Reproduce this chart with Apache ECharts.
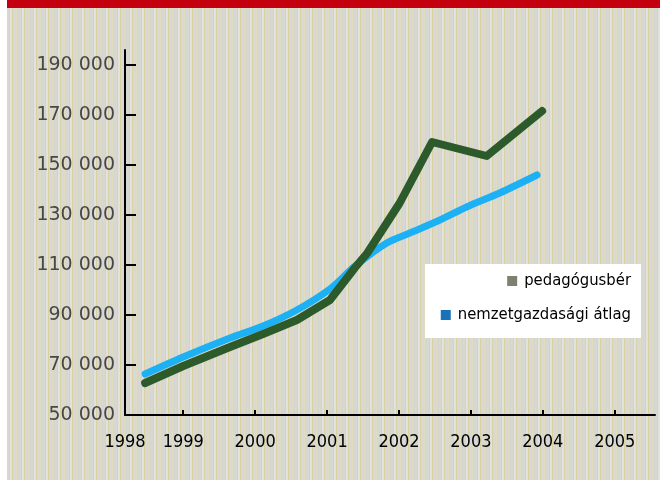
<!DOCTYPE html>
<html>
<head>
<meta charset="utf-8">
<script src="https://cdn.jsdelivr.net/npm/echarts@6/dist/echarts.min.js"></script>
<style>
  html, body { margin: 0; padding: 0; background: #ffffff; }
  #wrap { position: relative; width: 660px; height: 480px; overflow: hidden; }
  #bar { position: absolute; left: 7px; top: 0; width: 653px; height: 8px; background: #c4000f; }
  #paper {
    position: absolute; left: 7px; top: 8px; width: 653px; height: 472px;
    background-color: #dad8cc;
    background-image: repeating-linear-gradient(90deg,
      #d7d7d4 0px, #d7d7d4 2px,
      #ddd5a6 2px, #ddd5a6 3px,
      #e2e1da 3px, #e2e1da 5px,
      #d9d1a0 5px, #d9d1a0 6px,
      #d8d8d6 6px, #d8d8d6 9px,
      #e0dcc0 9px, #e0dcc0 10px,
      #d6d6d3 10px, #d6d6d3 12px);
  }
  #chart { position: absolute; left: 0; top: 0; width: 660px; height: 480px; }
</style>
</head>
<body>
<div id="wrap">
  <div id="bar"></div>
  <div id="paper"></div>
  <div id="chart"></div>
</div>
<script>
// Gross monthly earnings (Ft): teachers vs. national economy average
const yearLabels = [1998, 1999, 2000, 2001, 2002, 2003, 2004, 2005];
const valueTicks = [50000, 70000, 90000, 110000, 130000, 150000, 170000, 190000];

const seriesNames = ['pedagógusbér', 'nemzetgazdasági átlag'];

const pedYears  = [1998.47, 1999.0, 1999.65, 2000.11, 2000.58, 2001.04, 2001.39, 2001.56, 2002.01, 2002.46, 2003.22, 2003.99];
const pedValues = [62800,   69600,  77200,   82400,   88000,   96000,   109000,  114800,  134800,  159200,  153600,  171600];

const avgYears  = [1998.47, 1999.0, 1999.65, 2000.11, 2000.58, 2001.04, 2001.39, 2001.83, 2002.15, 2002.57, 2002.94, 2003.4, 2003.92];
const avgValues = [66400,   73200,  80800,   85600,   92000,   100400,  109600,  118800,  122800,  128000,  133200,  138800, 146000];

const toPairs = (xs, ys) => xs.map((x, i) => [x, ys[i]]);
const fmtThousands = v => String(v).replace(/\B(?=(\d{3})+(?!\d))/g, ' ');

const X_MIN = 1998.19, X_MAX = 2005.56;
const narrow = '"DejaVu Sans Condensed", "Liberation Sans Narrow", Roboto, sans-serif';

const chart = echarts.init(document.getElementById('chart'), null, { renderer: 'canvas' });
chart.setOption({
  animation: false,
  backgroundColor: 'transparent',
  grid: { left: 125, right: 5, top: 50, bottom: 65, containLabel: false },
  xAxis: {
    type: 'value',
    min: X_MIN,
    max: X_MAX,
    axisLine: { show: true, lineStyle: { color: '#000', width: 2 } },
    axisTick: { show: true, inside: true, length: 5, lineStyle: { color: '#000', width: 2 },
                customValues: yearLabels.slice(1) },
    axisLabel: {
      customValues: [X_MIN].concat(yearLabels.slice(1)),
      formatter: v => String(Math.floor(v + 0.0001)),
      color: '#000', fontFamily: narrow, fontSize: 18, margin: 18
    },
    splitLine: { show: false }
  },
  yAxis: {
    type: 'value',
    min: 50000,
    max: 196000,
    axisLine: { show: true, lineStyle: { color: '#000', width: 2 } },
    axisTick: { show: true, inside: true, length: 11, lineStyle: { color: '#000', width: 2 },
                customValues: valueTicks },
    axisLabel: {
      customValues: valueTicks,
      formatter: v => fmtThousands(v),
      color: '#474747', fontFamily: '"DejaVu Sans", sans-serif', fontSize: 19, margin: 10
    },
    splitLine: { show: false }
  },
  legend: [
    {
      data: [{ name: seriesNames[0], itemStyle: { color: '#7d8270' } }],
      right: 29, top: 271, padding: 0,
      icon: 'rect', itemWidth: 10, itemHeight: 10, itemGap: 0,
      textStyle: { color: '#000', fontFamily: narrow, fontSize: 16.5, lineHeight: 20, padding: [0, 0, 0, 2] }
    },
    {
      data: [{ name: seriesNames[1], itemStyle: { color: '#1c72b8' } }],
      right: 29, top: 305, padding: 0,
      icon: 'rect', itemWidth: 10, itemHeight: 10, itemGap: 0,
      textStyle: { color: '#000', fontFamily: narrow, fontSize: 16.5, lineHeight: 20, padding: [0, 0, 0, 2] }
    }
  ],
  graphic: [
    {
      type: 'rect', z: -1, silent: true,
      shape: { x: 425, y: 264, width: 216, height: 74 },
      style: { fill: '#ffffff' }
    }
  ],
  series: [
    {
      name: seriesNames[1],
      type: 'line',
      data: toPairs(avgYears, avgValues),
      showSymbol: false,
      smooth: 0.3,
      z: 2,
      lineStyle: { color: '#1cb0f4', width: 7, cap: 'round', join: 'round' },
      itemStyle: { color: '#1cb0f4' }
    },
    {
      name: seriesNames[0],
      type: 'line',
      data: toPairs(pedYears, pedValues),
      showSymbol: false,
      smooth: false,
      z: 3,
      lineStyle: { color: '#2d5a2b', width: 8, cap: 'round', join: 'round' },
      itemStyle: { color: '#2d5a2b' }
    }
  ]
});
</script>
</body>
</html>
